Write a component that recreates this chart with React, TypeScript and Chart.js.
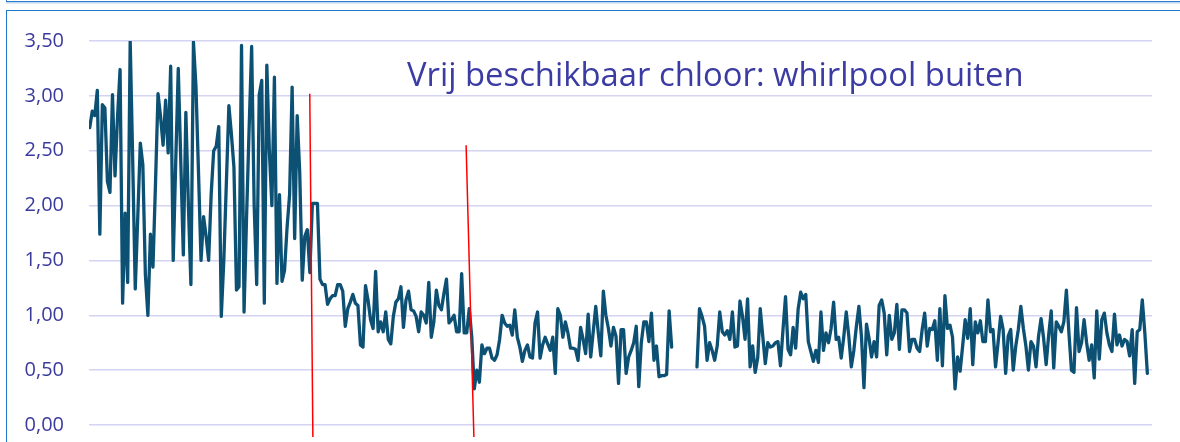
import React, { useEffect, useRef } from 'react';
import { Chart, registerables } from 'chart.js';

Chart.register(...registerables);

const titleText = 'Vrij beschikbaar chloor: whirlpool buiten';

// Free chlorine values (mg/l), one per measurement, in order.
const phaseHigh: number[] = [
  2.71, 2.86, 2.82, 3.05, 1.74, 2.92, 2.89, 2.22, 2.12, 3.01, 2.27, 2.81, 3.24, 1.11, 1.93, 1.30,
  3.50, 2.40, 1.24, 1.90, 2.57, 2.37, 1.37, 1.00, 1.74, 1.44, 2.20, 3.02, 2.81, 2.55, 2.96, 2.48,
  3.27, 1.50, 2.40, 3.25, 2.40, 1.55, 2.85, 2.00, 1.28, 3.49, 3.08, 2.30, 1.50, 1.90,
  1.72, 1.50, 2.10, 2.50, 2.54, 2.72, 0.99, 1.50, 2.20, 2.91, 2.65, 2.35, 1.23, 1.26, 3.46, 1.03,
  1.90, 2.70, 3.45, 2.00, 1.28, 3.01, 3.14, 1.11, 3.28, 2.50, 2.00, 3.17, 1.29, 2.10, 1.31, 1.41,
  1.80, 2.10, 3.08, 1.70, 2.82, 2.30, 1.32, 1.72, 1.78, 1.39,
];

const phaseMid: number[] = [
  2.02, 2.02, 2.02,
  1.33, 1.28, 1.28, 1.10, 1.15, 1.18, 1.18, 1.28, 1.28, 1.22, 0.90, 1.06, 1.12, 1.19, 1.11, 1.09,
  0.73, 0.71, 1.27, 1.14, 0.96, 0.88, 1.40, 0.85, 0.94, 0.85, 1.03, 0.78, 0.74, 0.99, 1.12, 1.15,
  1.26, 0.89, 1.14, 1.22, 1.05, 1.04, 0.99, 0.85, 1.03, 1.00, 0.93, 1.30, 0.80, 0.94, 1.23, 1.09,
  1.05, 1.20, 1.33,
  0.93, 0.96, 1.00, 0.85, 0.85, 1.38, 0.84, 0.84, 1.06, 0.80,
];

const phaseLowA: (number | null)[] = [
  0.33, 0.50, 0.39, 0.73, 0.65, 0.70, 0.70, 0.61, 0.59, 0.64, 0.78, 1.00, 0.93, 0.90, 0.91, 0.82,
  1.05, 0.80, 0.71, 0.58, 0.68, 0.73, 0.62, 0.61, 0.93, 1.03, 0.61, 0.73, 0.80, 0.74, 0.68, 0.80,
  0.47, 1.06, 1.00, 0.80, 0.94, 0.84, 0.70, 0.70, 0.69, 0.59,
  0.89, 0.78, 0.65, 1.01, 0.62, 0.85, 1.08, 0.84, 0.63, 1.22, 1.00, 0.88, 0.72, 0.89, 0.81, 0.38,
  0.87, 0.87, 0.47, 0.62, 0.68, 0.75, 0.90, 0.35, 0.75, 0.94, 0.94, 0.76, 1.02, 0.59, 0.72, 0.44,
  0.45, 0.45, 0.46, 1.04, 0.71,
  null, null, null, null, null, null, null, null, null,
];

const phaseLowB: number[] = [
  0.53, 1.06, 0.99, 0.90, 0.59, 0.75, 0.68, 0.59, 0.72, 1.03,
  0.85, 0.82, 0.86, 0.78, 1.03, 0.71, 0.72, 1.13, 0.99, 0.78, 1.15, 0.53, 0.72, 0.48, 0.61, 1.06,
  0.81, 0.56, 0.75, 0.71, 0.72, 0.75, 0.76, 0.54, 0.87, 1.17, 0.69, 0.64, 0.89, 0.70, 1.06, 1.21,
  1.15, 1.19, 0.76, 0.67, 0.58, 0.68, 0.57, 1.03, 0.68, 0.84, 0.75, 0.88, 1.12, 0.78, 0.80, 0.61,
  0.80, 1.03, 0.81, 0.53, 0.68, 0.90, 1.08, 0.81,
  0.34, 0.92, 0.79, 0.62, 0.76, 0.62, 1.09, 1.14, 1.02, 0.64, 1.00, 0.78, 0.84, 1.10, 0.69, 1.05,
  1.05, 1.02, 0.67, 0.78, 0.78, 0.70, 0.67, 0.87, 1.02, 0.72, 0.88, 0.87, 0.95, 0.59, 1.06, 0.54,
  1.18, 0.88, 0.91, 0.80, 0.33, 0.62, 0.49, 0.72, 0.96, 0.79, 1.06, 0.55, 0.94, 0.84, 0.95, 0.76,
  0.76, 1.14, 0.85, 0.87, 0.53, 0.75, 0.99, 0.87,
  0.47, 0.81, 0.87, 0.50, 0.72, 0.87, 1.08, 0.88, 0.72, 0.50, 0.76, 0.72, 0.53, 0.81, 0.97, 0.79,
  0.55, 0.82, 1.04, 0.52, 0.94, 0.90, 0.85, 0.94, 1.23, 0.84, 0.50, 0.48, 1.07, 0.67, 0.75, 0.96,
  0.75, 0.59, 0.73, 0.43, 1.04, 0.60, 0.96, 1.02, 0.84, 0.73, 0.67, 1.01, 0.73, 0.82, 0.72, 0.78,
  0.76, 0.63, 0.87, 0.38, 0.85, 0.87, 1.14, 0.84, 0.47,
];

const yTickValues: number[] = [0, 0.5, 1, 1.5, 2, 2.5, 3, 3.5];

// Red marker lines (x in measurement index, y in mg/l)
const marker1X: number[] = [86.97, 88.2];
const marker1Y: number[] = [3.02, -0.11];
const marker2X: number[] = [148.76, 151.84];
const marker2Y: number[] = [2.55, -0.11];

const series: (number | null)[] = [...phaseHigh, ...phaseMid, ...phaseLowA, ...phaseLowB];

export default function App() {
  const canvasRef = useRef<HTMLCanvasElement | null>(null);

  useEffect(() => {
    const canvas = canvasRef.current;
    if (!canvas) return;
    const n = series.length;
    const chart = new Chart(canvas, {
      type: 'line',
      data: {
        datasets: [
          {
            label: 'Vrij chloor',
            data: series.map((v, i) => ({ x: i, y: v })),
            borderColor: '#0C5174',
            borderWidth: 3.3,
            pointRadius: 0,
            tension: 0,
            spanGaps: false,
            borderJoinStyle: 'round',
            borderCapStyle: 'round',
            order: 2,
          },
          {
            label: 'marker1',
            data: marker1X.map((x, i) => ({ x, y: marker1Y[i] })),
            borderColor: '#FF0000',
            borderWidth: 1.5,
            pointRadius: 0,
            clip: false as any,
            order: 1,
          },
          {
            label: 'marker2',
            data: marker2X.map((x, i) => ({ x, y: marker2Y[i] })),
            borderColor: '#FF0000',
            borderWidth: 1.5,
            pointRadius: 0,
            clip: false as any,
            order: 1,
          },
        ],
      },
      options: {
        responsive: false,
        animation: false,
        devicePixelRatio: 1,
        layout: { padding: { top: 41, bottom: 17, right: 28, left: 0 } },
        plugins: {
          legend: { display: false },
          tooltip: { enabled: false },
          title: { display: false },
        },
        scales: {
          x: {
            type: 'linear',
            display: false,
            min: -0.28,
            max: (n - 1) * (1063 / 1058.6) + 0.1,
          },
          y: {
            min: 0,
            max: 3.5,
            afterBuildTicks: (scale: any) => {
              scale.ticks = yTickValues.map((v) => ({ value: v }));
            },
            afterFit: (scale: any) => {
              scale.width = 89;
              scale.paddingTop = 0;
              scale.paddingBottom = 0;
            },
            border: { display: false },
            grid: {
              color: '#D4D4F2',
              lineWidth: 1.5,
              drawTicks: false,
            },
            ticks: {
              padding: 25,
              color: '#3B3B9E',
              font: { family: 'Open Sans', size: 20 },
              callback: (v: any) => Number(v).toFixed(2).replace('.', ','),
            },
          },
        },
      },
    });
    return () => chart.destroy();
  }, []);

  return (
    <div style={{ position: 'absolute', left: 0, top: 0, width: 1180, height: 442, overflow: 'hidden', background: '#ffffff' }}>
      <div style={{ position: 'absolute', left: 6, top: -19, width: 1200, height: 20, borderLeft: '1.5px solid #2A7BC8', borderBottom: '1.5px solid #2A7BC8', boxShadow: '0 1.5px 0 #BFD8F0' }} />
      <div style={{ position: 'absolute', left: 6, top: 10, width: 1200, height: 460, borderLeft: '1.5px solid #1F77C9', borderTop: '1.5px solid #1F77C9' }} />
      <canvas ref={canvasRef} width={1180} height={442} style={{ position: 'absolute', left: 0, top: 0, width: 1180, height: 442 }} />
      <div style={{ position: 'absolute', left: 407, top: 57, fontFamily: 'Open Sans', fontSize: 32.8, lineHeight: '33px', color: '#3B3BA4', whiteSpace: 'nowrap' }}>
        {titleText}
      </div>
    </div>
  );
}
